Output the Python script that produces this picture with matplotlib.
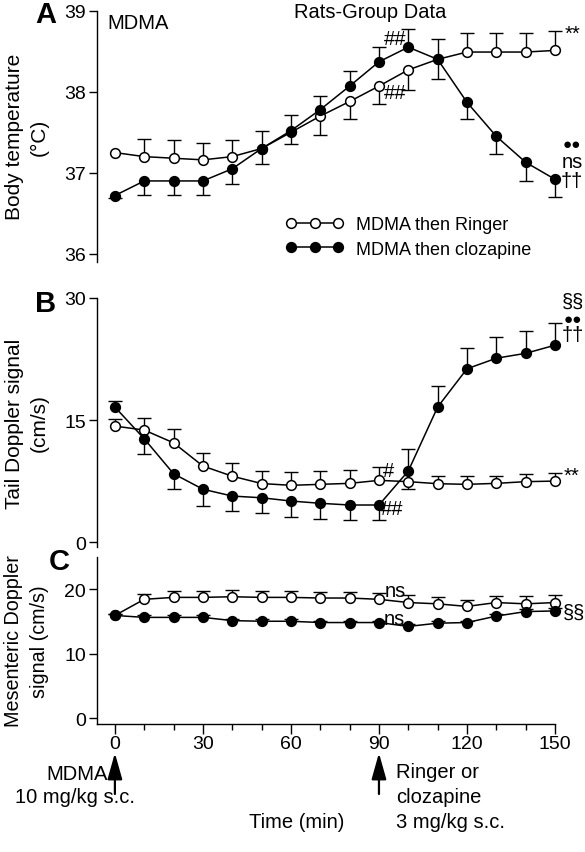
import matplotlib
matplotlib.use('Agg')
from matplotlib import pyplot as plt

plt.rcParams['font.family'] = ['Liberation Sans', 'DejaVu Sans']

time = [0, 10, 20, 30, 40, 50, 60, 70, 80, 90, 100, 110, 120, 130, 140, 150]

# A: body temperature (deg C); err > 0 drawn up, err < 0 drawn down
tempRinger = [37.25, 37.2, 37.18, 37.16, 37.2, 37.3, 37.5, 37.70, 37.88, 38.07,
              38.27, 38.4, 38.49, 38.49, 38.49, 38.51]
tempRingerErr = [0, 0.22, 0.22, 0.21, 0.2, 0.22, 0.21, -0.23, -0.21, -0.22,
                 -0.25, 0.25, 0.24, 0.24, 0.24, 0.24]
tempCloz = [36.72, 36.9, 36.9, 36.9, 37.05, 37.3, 37.52, 37.78, 38.07, 38.37,
            38.55, 38.4, 37.87, 37.45, 37.13, 36.92]
tempClozErr = [-0.03, -0.17, -0.17, -0.17, -0.19, -0.19, -0.16, 0.17, 0.18, 0.18,
               0.22, -0.24, -0.2, -0.22, -0.23, -0.22]

# B: tail Doppler signal (cm/s)
tailRinger = [14.26, 13.77, 12.2, 9.35, 8.1, 7.2, 6.98, 7.1, 7.22, 7.59,
              7.43, 7.18, 7.1, 7.22, 7.43, 7.5]
tailRingerErr = [0.84, 1.53, 1.66, 1.65, 1.67, 1.54, 1.62, 1.64, 1.64, 1.64,
                 -0.94, 0.94, 1.02, 0.9, 0.9, 1.04]
tailCloz = [16.6, 12.7, 8.4, 6.5, 5.66, 5.45, 5.05, 4.77, 4.56, 4.56,
            8.74, 16.6, 21.3, 22.6, 23.2, 24.2]
tailClozErr = [0.8, -1.9, -1.9, -2.0, -1.86, -1.85, -1.92, -1.89, -1.84, -1.84,
               2.66, 2.6, 2.6, 2.6, 2.7, 2.7]

# C: mesenteric Doppler signal (cm/s)
mesRinger = [15.9, 18.4, 18.7, 18.7, 18.8, 18.7, 18.7, 18.6, 18.6, 18.4,
             17.9, 17.7, 17.3, 17.9, 17.7, 17.9]
mesRingerErr = [0.3, 0.9, 1.0, 1.0, 1.0, 1.0, 1.0, 0.9, 0.9, 1.0,
                1.2, 1.0, 1.0, 1.0, 1.2, 1.1]
mesCloz = [15.9, 15.6, 15.6, 15.6, 15.1, 15.0, 15.0, 14.8, 14.8, 14.8,
           14.2, 14.7, 14.8, 15.8, 16.5, 16.6]
mesClozErr = [0.3, 0.3, 0.3, 0.3, 0.3, 0.3, 0.3, 0.3, 0.3, 0.3,
              0.3, 0.3, 0.3, 0.4, 0.4, 0.4]

W, H = 585, 853
fig = plt.figure(figsize=(W / 100, H / 100), dpi=100)


def add_ax(left, top, right, bottom):
    return fig.add_axes([left / W, 1 - bottom / H, (right - left) / W, (bottom - top) / H])


def draw_series(ax, y, err, filled):
    ends = [yi + e for yi, e in zip(y, err)]
    xs = [t for t, e in zip(time, err) if e != 0]
    ys = [yi for yi, e in zip(y, err) if e != 0]
    es = [v for v, e in zip(ends, err) if e != 0]
    ax.vlines(xs, ys, es, colors='black', linewidth=1.0, zorder=2, clip_on=False)
    ax.plot(xs, es, ls='none', marker='_', ms=10, mew=1.0, color='black',
            zorder=2, clip_on=False)
    face = 'black' if filled else 'white'
    line, = ax.plot(time, y, color='black', lw=1.1, marker='o', ms=7,
                    mfc=face, mec='black', mew=1.1, zorder=3, clip_on=False)
    return line


def style(ax, bottom=False):
    for s in ['top', 'right']:
        ax.spines[s].set_visible(False)
    ax.spines['left'].set_linewidth(1.0)
    ax.set_xlim(-6.1, 150)
    ax.tick_params(axis='y', direction='out', length=6, width=1.0, labelsize=14, pad=2)
    ax.patch.set_alpha(0)
    if bottom:
        ax.spines['bottom'].set_linewidth(1.0)
        ax.set_xticks([0, 30, 60, 90, 120, 150])
        ax.set_xticks(range(0, 151, 10), minor=True)
        ax.tick_params(axis='x', which='major', direction='out', length=7, width=1.0,
                       labelsize=14, pad=1)
        ax.tick_params(axis='x', which='minor', direction='out', length=4.5, width=1.0)
    else:
        ax.spines['bottom'].set_visible(False)
        ax.set_xticks([])


fs = 14.5
lfs = 15
lpad = 11

# panel A
axA = add_ax(97, 11.7, 555, 263)
style(axA)
axA.set_ylim(35.9, 39)
axA.set_yticks([36, 37, 38, 39])
lr = draw_series(axA, tempRinger, tempRingerErr, False)
lc = draw_series(axA, tempCloz, tempClozErr, True)
axA.set_ylabel('Body temperature\n(°C)', fontsize=lfs, linespacing=1.4, labelpad=lpad)
axA.legend([lr, lc], ['MDMA then Ringer', 'MDMA then clozapine'], numpoints=3,
           frameon=False, fontsize=13, handlelength=3.2, handletextpad=0.7,
           labelspacing=0.42, borderpad=0, loc='upper left',
           bbox_to_anchor=(277 / W, 1 - 208 / H), bbox_transform=fig.transFigure)
axA.text(95.5, 38.66, '##', fontsize=fs, ha='center', va='center')
axA.text(95.5, 37.99, '##', fontsize=fs, ha='center', va='center')
axA.text(155.8, 38.72, '**', fontsize=fs, ha='center', va='center', clip_on=False)
axA.text(155.8, 37.36, '●●', fontsize=11, ha='center', va='center', clip_on=False)
axA.text(155.8, 37.14, 'ns', fontsize=fs, ha='center', va='center', clip_on=False)
axA.text(155.8, 36.9, '††', fontsize=fs, ha='center', va='center', clip_on=False)
axA.text(-2.4, 38.85, 'MDMA', fontsize=fs, ha='left', va='center')
fig.text(370 / W, 1 - 12 / H, 'Rats-Group Data', fontsize=fs, ha='center', va='center')
fig.text(46 / W, 1 - 15 / H, 'A', fontsize=21, fontweight='bold', ha='center', va='center')

# panel B
axB = add_ax(97, 299, 555, 548)
style(axB)
axB.set_ylim(-0.6, 30)
axB.set_yticks([0, 15, 30])
draw_series(axB, tailRinger, tailRingerErr, False)
draw_series(axB, tailCloz, tailClozErr, True)
axB.set_ylabel('Tail Doppler signal\n(cm/s)', fontsize=lfs, linespacing=1.4, labelpad=lpad)
axB.text(156, 29.6, '§§', fontsize=fs, ha='center', va='center', clip_on=False)
axB.text(156, 27.4, '●●', fontsize=11, ha='center', va='center', clip_on=False)
axB.text(156, 25.5, '††', fontsize=fs, ha='center', va='center', clip_on=False)
axB.text(155.5, 8.2, '**', fontsize=fs, ha='center', va='center', clip_on=False)
axB.text(93.4, 8.8, '#', fontsize=fs, ha='center', va='center')
axB.text(94.6, 4.1, '##', fontsize=fs, ha='center', va='center')
fig.text(46 / W, 1 - 304 / H, 'B', fontsize=21, fontweight='bold', ha='center', va='center')

# panel C
axC = add_ax(97, 557.75, 555, 725)
style(axC, bottom=True)
axC.set_ylim(-0.93, 25)
axC.set_yticks([0, 10, 20])
draw_series(axC, mesRinger, mesRingerErr, False)
draw_series(axC, mesCloz, mesClozErr, True)
axC.set_ylabel('Mesenteric Doppler\nsignal (cm/s)', fontsize=14.2, linespacing=1.45,
               labelpad=lpad)
axC.text(95.5, 19.8, 'ns', fontsize=fs, ha='center', va='center')
axC.text(95.3, 15.4, 'ns', fontsize=fs, ha='center', va='center')
axC.text(156.5, 16.4, '§§', fontsize=fs, ha='center', va='center', clip_on=False)
fig.text(59 / W, 1 - 562 / H, 'C', fontsize=21, fontweight='bold', ha='center', va='center')

# injection arrows and notes
for t in [0, 90]:
    axC.annotate('', xy=(t, 1 - 754 / H), xytext=(t, 1 - 795 / H),
                 xycoords=('data', 'figure fraction'),
                 textcoords=('data', 'figure fraction'),
                 arrowprops=dict(arrowstyle='-|>,head_length=1.6,head_width=0.45',
                                 color='black', lw=1.6, shrinkA=0, shrinkB=0))
fig.text(108 / W, 1 - 775 / H, 'MDMA', fontsize=fs, ha='right', va='center')
fig.text(75 / W, 1 - 798 / H, '10 mg/kg s.c.', fontsize=fs, ha='center', va='center')
fig.text(297 / W, 1 - 823 / H, 'Time (min)', fontsize=fs, ha='center', va='center')
fig.text(396 / W, 1 - 798 / H, 'Ringer or\nclozapine\n3 mg/kg s.c.', fontsize=fs,
         ha='left', va='center', linespacing=1.4)

fig.savefig('out.png', dpi=100)
